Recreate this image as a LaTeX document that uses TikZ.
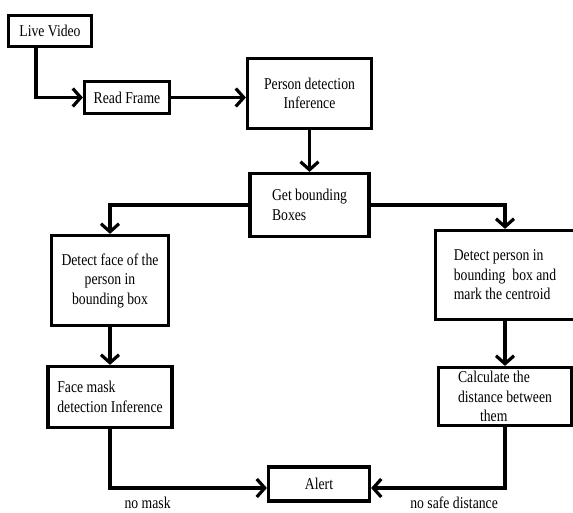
\documentclass[tikz,border=0pt]{standalone}
\usepackage{fontspec}
\setmainfont{Liberation Serif}[FakeStretch=0.83]
\usetikzlibrary{arrows.meta}
\begin{document}
\begin{tikzpicture}[x=1pt, y=-1pt, font=\fontsize{16.5}{19.5}\selectfont, line width=3.2pt, >={Straight Barb[length=8pt,width=18pt]},
		box/.style={draw, inner sep=2pt}]
			\useasboundingbox (0,0) rectangle (573,512);
			\node[box, minimum width=83pt, minimum height=31pt] (lv) at (50,31) {Live Video};
			\node[box, minimum width=85pt, minimum height=32pt] (rf) at (127,97.5) {Read Frame};
			\node[box, minimum width=124pt, minimum height=70pt, align=center] (pd) at (309.5,93.5) {Person detection\\Inference};
			\node[box, minimum width=119pt, minimum height=63pt, align=left] (gb) at (309.5,205) {Get bounding\\ Boxes};
			\node[box, minimum width=117pt, minimum height=90pt, align=center] (df) at (110,280.5) {Detect face of the\\person in\\bounding box};
			\node[box, minimum width=124pt, minimum height=61pt, align=left] (fm) at (110,397) {Face mask\\detection Inference};
			\node[box, minimum width=139pt, minimum height=89pt, align=left] (dp) at (505,275) {Detect person in\\bounding\ \ box and\\mark the centroid};
			\node[box, minimum width=133pt, minimum height=58pt, align=left] (cd) at (505,396.5) {Calculate the\\distance between\\\hspace*{22pt}them};
			\node[box, minimum width=101pt, minimum height=34pt] (al) at (319,484) {Alert};
			\draw[->] ([xshift=-14pt]lv.south) |- (rf.west);
			\draw[->] (rf.east) -- (rf.east -| pd.west);
			\draw[->] (pd) -- (gb);
			\draw[->] (gb.west) -| (df.north);
			\draw[->] (gb.east) -| (dp.north);
			\draw[->] (df) -- (fm);
			\draw[->] (dp) -- (cd);
			\draw[->] (fm.south) |- ([yshift=-4pt]al.west) node[pos=0.62, below=4pt]{no mask};
			\draw[->] (cd.south) |- ([yshift=-4pt]al.east) node[pos=0.69, below=4pt]{no safe distance};
		\end{tikzpicture}
\end{document}
